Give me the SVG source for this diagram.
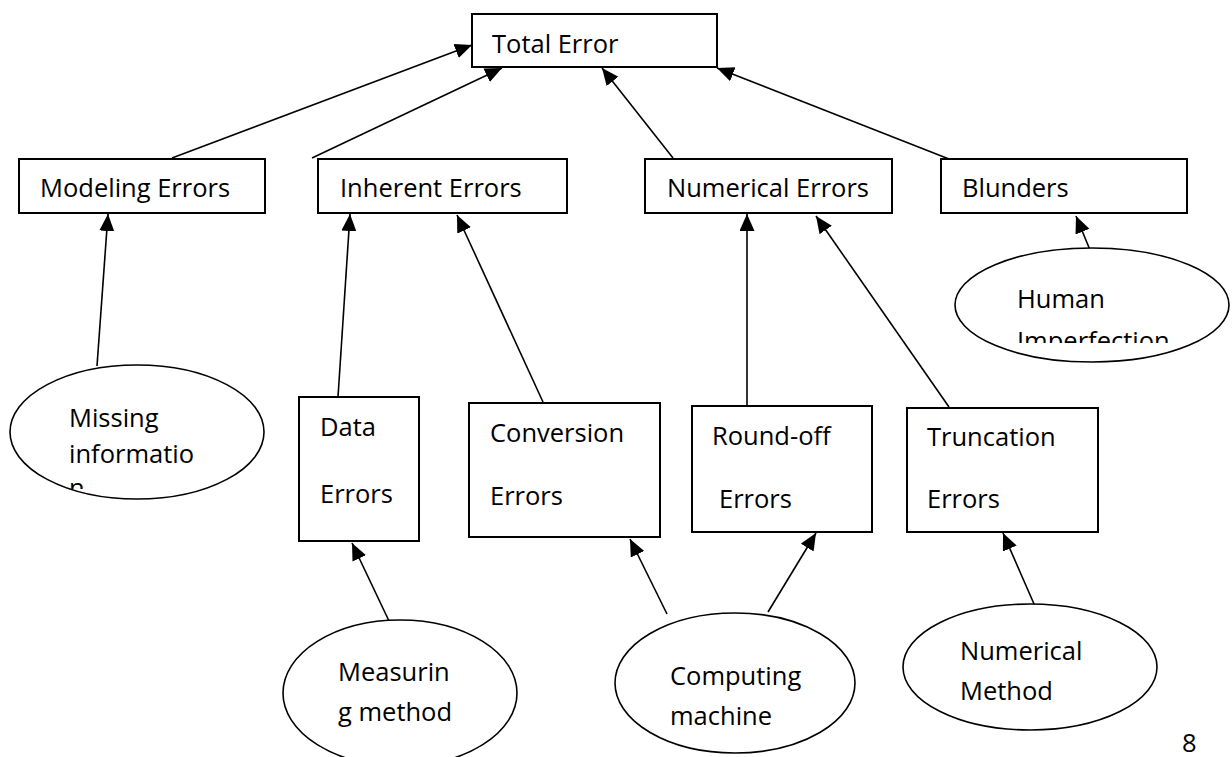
<svg xmlns="http://www.w3.org/2000/svg" width="1232" height="757" viewBox="0 0 1232 757">
  <style>
    .box { fill: #ffffff; stroke: #000000; stroke-width: 2; }
    .oval { fill: #ffffff; stroke: #000000; stroke-width: 1.6; }
    .lbl { font-family: "Open Sans", "Noto Sans", sans-serif; font-size: 25.5px; fill: #000000; }
    .link { fill: none; stroke: #000000; stroke-width: 1.6; marker-end: url(#head); }
  </style>
  <defs>
    <marker id="head" markerUnits="userSpaceOnUse" markerWidth="19" markerHeight="16" refX="17" refY="7.5" orient="auto">
      <path d="M0,0 L17,7.5 L0,15 Z" fill="#000000"/>
    </marker>
    <!-- text boxes inside the ovals cut off their last line -->
    <clipPath id="clipHuman"><rect x="955" y="250" width="275" height="93"/></clipPath>
    <clipPath id="clipMissing"><rect x="10" y="365" width="255" height="124"/></clipPath>
  </defs>

  <rect width="1232" height="757" fill="#ffffff"/>

  <!-- connectors -->
  <g id="connectors">
    <line class="link" x1="172" y1="158" x2="472" y2="45"/>
    <line class="link" x1="312" y1="158" x2="502" y2="68"/>
    <line class="link" x1="673" y1="158" x2="602" y2="68"/>
    <line class="link" x1="949" y1="159" x2="717" y2="68"/>
    <line class="link" x1="97" y1="366" x2="108" y2="214"/>
    <line class="link" x1="338" y1="397" x2="350" y2="214"/>
    <line class="link" x1="543" y1="402" x2="457" y2="215"/>
    <line class="link" x1="747" y1="405" x2="747" y2="214"/>
    <line class="link" x1="949" y1="407" x2="816" y2="216"/>
    <line class="link" x1="1090" y1="250" x2="1076" y2="216"/>
    <line class="link" x1="389" y1="621" x2="352" y2="543"/>
    <line class="link" x1="667" y1="614" x2="630" y2="539"/>
    <line class="link" x1="768" y1="612" x2="816" y2="533"/>
    <line class="link" x1="1041" y1="620" x2="1003" y2="533"/>
  </g>

  <g id="total-error">
    <rect class="box" x="472" y="14" width="245" height="53"/>
    <text class="lbl" x="492" y="53">Total Error</text>
  </g>

  <g id="modeling-errors">
    <rect class="box" x="19" y="159" width="246" height="54"/>
    <text class="lbl" x="40" y="197">Modeling Errors</text>
  </g>

  <g id="inherent-errors">
    <rect class="box" x="318" y="159" width="249" height="54"/>
    <text class="lbl" x="340" y="197">Inherent Errors</text>
  </g>

  <g id="numerical-errors">
    <rect class="box" x="645" y="159" width="247" height="54"/>
    <text class="lbl" x="667" y="197">Numerical Errors</text>
  </g>

  <g id="blunders">
    <rect class="box" x="941" y="159" width="246" height="54"/>
    <text class="lbl" x="962" y="197">Blunders</text>
  </g>

  <g id="human-imperfection">
    <ellipse class="oval" cx="1092" cy="305" rx="137" ry="57"/>
    <g clip-path="url(#clipHuman)">
      <text class="lbl" x="1017" y="308">Human</text>
      <text class="lbl" x="1017" y="350">Imperfection</text>
    </g>
  </g>

  <g id="missing-information">
    <ellipse class="oval" cx="137" cy="432" rx="127" ry="67"/>
    <g clip-path="url(#clipMissing)">
      <text class="lbl" x="69" y="427">Missing</text>
      <text class="lbl" x="69" y="463">informatio</text>
      <text class="lbl" x="69" y="497">n</text>
    </g>
  </g>

  <g id="data-errors">
    <rect class="box" x="299" y="397" width="120" height="144"/>
    <text class="lbl" x="320" y="436">Data</text>
    <text class="lbl" x="320" y="503">Errors</text>
  </g>

  <g id="conversion-errors">
    <rect class="box" x="469" y="403" width="191" height="134"/>
    <text class="lbl" x="490" y="442">Conversion</text>
    <text class="lbl" x="490" y="505">Errors</text>
  </g>

  <g id="roundoff-errors">
    <rect class="box" x="692" y="406" width="180" height="126"/>
    <text class="lbl" x="712" y="445">Round-off</text>
    <text class="lbl" x="719" y="508">Errors</text>
  </g>

  <g id="truncation-errors">
    <rect class="box" x="907" y="408" width="191" height="124"/>
    <text class="lbl" x="927" y="446">Truncation</text>
    <text class="lbl" x="927" y="508">Errors</text>
  </g>

  <g id="measuring-method">
    <ellipse class="oval" cx="400" cy="693" rx="117" ry="73"/>
    <text class="lbl" x="338" y="681">Measurin</text>
    <text class="lbl" x="338" y="721">g method</text>
  </g>

  <g id="computing-machine">
    <ellipse class="oval" cx="735" cy="683" rx="120" ry="70"/>
    <text class="lbl" x="670" y="685">Computing</text>
    <text class="lbl" x="670" y="725">machine</text>
  </g>

  <g id="numerical-method">
    <ellipse class="oval" cx="1030" cy="667" rx="127" ry="63"/>
    <text class="lbl" x="960" y="660">Numerical</text>
    <text class="lbl" x="960" y="700">Method</text>
  </g>

  <text class="lbl" x="1182" y="752">8</text>
</svg>
